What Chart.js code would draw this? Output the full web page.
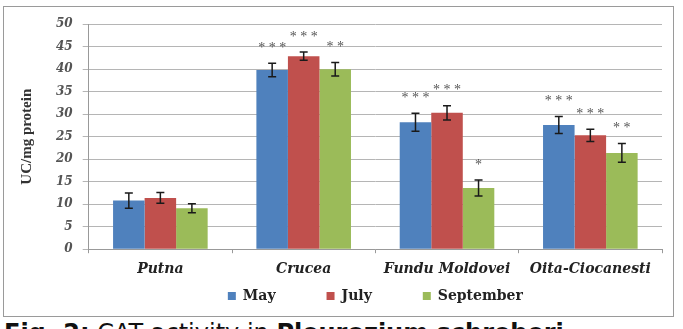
<!DOCTYPE html>
<html>
<head>
<meta charset="utf-8">
<script src="https://cdn.jsdelivr.net/npm/chart.js@4.4.0/dist/chart.umd.min.js"></script>
<style>
  body { margin: 0; background: #fff; width: 683px; height: 329px; overflow: hidden; position: relative; }
  #frame { position: absolute; left: 3px; top: 6px; width: 669px; height: 309px; border: 1px solid #9a9a9a; }
  #frame canvas { display: block; }
  #caption { position: absolute; left: 4px; top: 321px; font-family: "DejaVu Sans", Arial, sans-serif; font-size: 24px; line-height: 24px; color: #111; white-space: nowrap; }
</style>
</head>
<body>
<div id="frame"><canvas id="catChart" width="669" height="309"></canvas></div>
<div id="caption"><b>Fig. 2:</b> CAT activity in <b>Pleurozium schreberi</b></div>
<script>
const sites = ['Putna', 'Crucea', 'Fundu Moldovei', 'Oita-Ciocanesti'];
const may = [10.8, 39.8, 28.2, 27.6];
const mayErr = [1.7, 1.5, 2.0, 1.9];
const july = [11.4, 42.9, 30.3, 25.3];
const julyErr = [1.2, 0.9, 1.6, 1.35];
const september = [9.1, 40.0, 13.6, 21.4];
const septemberErr = [1.0, 1.5, 1.8, 2.1];
// significance marks above the error bars
const maySig = ['', '***', '***', '***'];
const julySig = ['', '***', '***', '***'];
const septemberSig = ['', '**', '*', '**'];
const yTicks = [0, 5, 10, 15, 20, 25, 30, 35, 40, 45, 50];

const serif = '"Liberation Serif", "Times New Roman", serif';
const wideSerif = '"DejaVu Serif", serif';

// error bars + stars drawn from the scale
const errorBars = {
    id: 'errorBars',
    afterDatasetsDraw(chart) {
        const ctx = chart.ctx;
        const y = chart.scales.y;
        chart.data.datasets.forEach((ds, i) => {
            const meta = chart.getDatasetMeta(i);
            meta.data.forEach((bar, j) => {
                const v = ds.data[j];
                const e = ds.errors[j];
                const top = y.getPixelForValue(v + e);
                const bot = y.getPixelForValue(v - e);
                ctx.save();
                ctx.strokeStyle = '#1a1a1a';
                ctx.lineWidth = 1.5;
                ctx.beginPath();
                ctx.moveTo(bar.x, top); ctx.lineTo(bar.x, bot);
                ctx.moveTo(bar.x - 4, top); ctx.lineTo(bar.x + 4, top);
                ctx.moveTo(bar.x - 4, bot); ctx.lineTo(bar.x + 4, bot);
                ctx.stroke();
                const sig = ds.sig[j];
                if (sig) {
                    ctx.fillStyle = '#555';
                    ctx.font = '14px ' + serif;
                    ctx.textAlign = 'center';
                    ctx.textBaseline = 'middle';
                    ctx.fillText(sig.split('').join(' '), bar.x, top - 15);
                }
                ctx.restore();
            });
        });
    }
};

// legend padding is wide for item spacing; keep the box itself short
const LEGEND_PAD = 51;
const tightLegend = {
    id: 'tightLegend',
    beforeInit(chart) {
        const fit = chart.legend.fit;
        chart.legend.fit = function() {
            fit.call(this);
            this.height = 24;
        };
    },
    afterLayout(chart) {
        chart.legend.top -= LEGEND_PAD - 3;
    }
};

const catCtx = document.getElementById('catChart').getContext('2d');
const catChart = new Chart(catCtx, {
    type: 'bar',
    data: {
        labels: sites,
        datasets: [{
            label: 'May',
            data: may,
            errors: mayErr,
            sig: maySig,
            backgroundColor: '#4f81bd'
        }, {
            label: 'July',
            data: july,
            errors: julyErr,
            sig: julySig,
            backgroundColor: '#c0504d'
        }, {
            label: 'September',
            data: september,
            errors: septemberErr,
            sig: septemberSig,
            backgroundColor: '#9bbb59'
        }]
    },
    options: {
        responsive: false,
        animation: false,
        layout: { padding: { top: 11, right: 11, left: 14, bottom: 6 } },
        datasets: {
            bar: { categoryPercentage: 0.66, barPercentage: 1.0 }
        },
        scales: {
            x: {
                grid: { display: true, drawOnChartArea: false, offset: true, color: '#999', tickLength: 4 },
                border: { color: '#999' },
                ticks: { color: '#222', font: { family: wideSerif, size: 14, style: 'italic', weight: 'bold' }, padding: 8 }
            },
            y: {
                min: 0,
                max: 50,
                afterBuildTicks: function(axis) {
                    axis.ticks = yTicks.map(v => ({ value: v }));
                },
                grid: { color: '#b5b5b5', tickLength: 6 },
                border: { color: '#999' },
                ticks: { autoSkip: false, color: '#555', font: { family: wideSerif, size: 12, style: 'italic', weight: 'bold' }, padding: 10 },
                title: {
                    display: true,
                    text: 'UC/mg protein',
                    color: '#333',
                    font: { family: serif, size: 15, weight: 'bold' },
                    padding: { top: 0, bottom: 10 }
                }
            }
        },
        plugins: {
            legend: {
                position: 'bottom',
                fullSize: false,
                labels: {
                    boxWidth: 8,
                    boxHeight: 8,
                    padding: LEGEND_PAD,
                    color: '#222',
                    font: { family: wideSerif, size: 14, weight: 'bold' }
                }
            },
            tooltip: { enabled: false }
        }
    },
    plugins: [errorBars, tightLegend]
});
</script>
</body>
</html>
